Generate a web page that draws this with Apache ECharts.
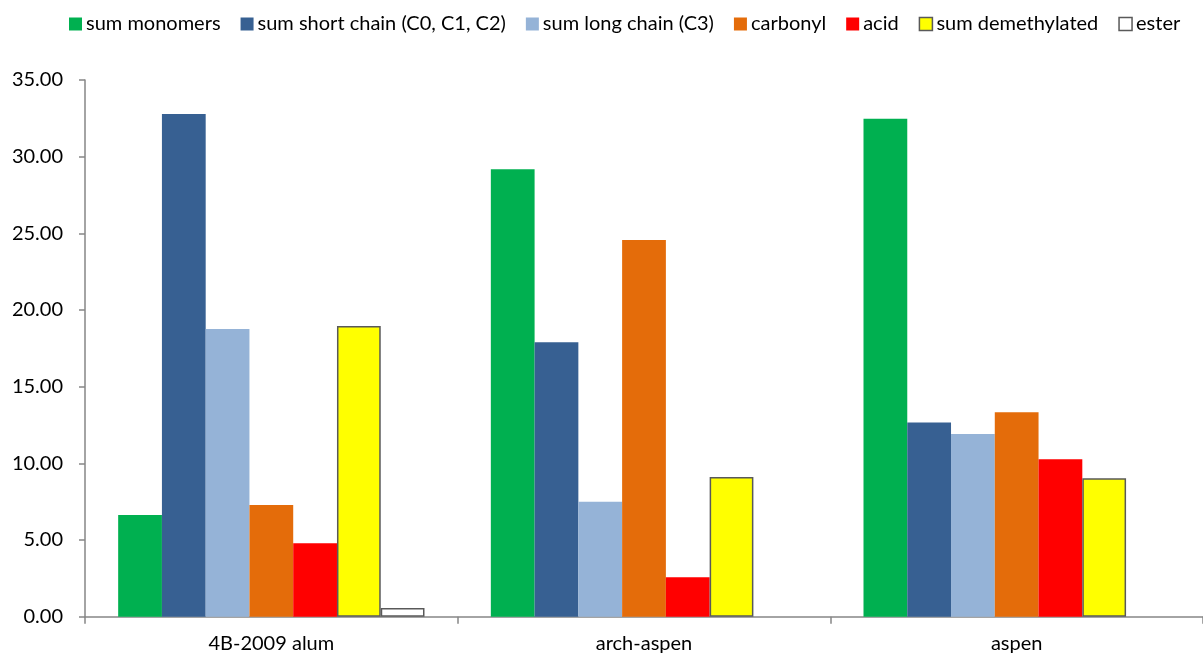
<!DOCTYPE html>
<html>
<head>
<meta charset="utf-8">
<script src="https://cdn.jsdelivr.net/npm/echarts@6/dist/echarts.min.js"></script>
<style>
  html, body { margin: 0; padding: 0; background: #fff; }
  #chart { width: 1203px; height: 657px; }
</style>
</head>
<body>
<div id="chart"></div>
<script>
// Samples on the category axis
const categories = ['4B-2009 alum', 'arch-aspen', 'aspen'];

// Product group totals per sample (null = not detected)
const sumMonomers     = [6.63, 29.18, 32.47];
const sumShortChain   = [32.79, 17.90, 12.66];
const sumLongChain    = [18.77, 7.50, 11.92];
const carbonyl        = [7.29, 24.57, 13.33];
const acid            = [4.79, 2.57, 10.27];
const sumDemethylated = [18.96, 9.11, 9.03];
const ester           = [0.57, null, null];

const seriesNames = [
  'sum monomers', 'sum short chain (C0, C1, C2)', 'sum long chain (C3)',
  'carbonyl', 'acid', 'sum demethylated', 'ester'
];
const seriesData = [sumMonomers, sumShortChain, sumLongChain, carbonyl, acid, sumDemethylated, ester];
const fills   = ['#00B050', '#376092', '#95B3D7', '#E46C0A', '#FF0000', '#FFFF00', '#FFFFFF'];
const borders = ['#00B050', '#376092', '#95B3D7', '#E46C0A', '#FF0000', '#595959', '#595959'];
const borderWidths = [0, 0, 0, 0, 0, 1.5, 1.5];

const yTicks = { min: 0, max: 35, interval: 5 };
const font = 'Lato, "Open Sans", sans-serif';

const chart = echarts.init(document.getElementById('chart'), null, { renderer: 'canvas' });

chart.setOption({
  animation: false,
  backgroundColor: '#fff',
  textStyle: { fontFamily: font },
  legend: {
    top: 14,
    left: 69,
    width: 1134,
    padding: 0,
    itemWidth: 13,
    itemHeight: 13,
    itemGap: 20,
    icon: 'rect',
    textStyle: { fontSize: 20, color: '#000', fontFamily: font, padding: [0, 0, 0, -1] },
    data: seriesNames.map((n, i) => ({
      name: n,
      itemStyle: { color: fills[i], borderColor: borders[i], borderWidth: borderWidths[i] }
    }))
  },
  grid: { left: 85, right: 0, top: 80, bottom: 40.3, containLabel: false },
  xAxis: {
    type: 'category',
    data: categories,
    axisLine: { lineStyle: { color: '#868686', width: 1.5 } },
    axisTick: { show: true, alignWithLabel: false, length: 7, lineStyle: { color: '#868686', width: 1.5 } },
    axisLabel: { fontSize: 20, color: '#000', margin: 17, fontFamily: font }
  },
  yAxis: {
    type: 'value',
    min: yTicks.min,
    max: yTicks.max,
    interval: yTicks.interval,
    axisLine: { show: true, lineStyle: { color: '#868686', width: 1.5 } },
    axisTick: { show: true, length: 6, lineStyle: { color: '#868686', width: 1.5 } },
    splitLine: { show: false },
    axisLabel: {
      fontSize: 20, color: '#000', margin: 22, fontFamily: font,
      formatter: v => v.toFixed(2)
    }
  },
  series: seriesNames.map((n, i) => ({
    name: n,
    type: 'bar',
    data: seriesData[i],
    barGap: '0%',
    barCategoryGap: '17.8%',
    itemStyle: {
      color: fills[i],
      borderColor: borders[i],
      borderWidth: borderWidths[i]
    }
  }))
});
</script>
</body>
</html>
